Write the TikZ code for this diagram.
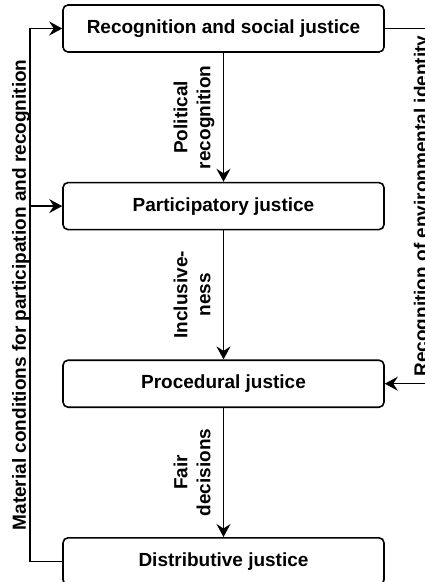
\documentclass[tikz,border=0pt]{standalone}
\usepackage{fontspec}
\setmainfont{Liberation Sans}
\usetikzlibrary{positioning,arrows.meta}
\tikzset{
  box/.style={draw, rounded corners=5pt, line width=1.6pt, minimum width=321pt, minimum height=47pt},
  conn/.style={line width=1.5pt},
  arr/.style={conn, -{Stealth[length=13pt,width=14pt,inset=4.5pt]}},
  lbl/.style={rotate=90, align=center, anchor=south, text depth=0pt, inner xsep=0pt, inner ysep=12.5pt},
  sidelbl/.style={rotate=90, anchor=south, text depth=0pt, inner sep=0pt}
}
\begin{document}
\begin{tikzpicture}[x=1pt, y=-1pt, font=\fontsize{19}{23}\selectfont\bfseries]
  \useasboundingbox (0,0) rectangle (425,582);
  \clip (0,0) rectangle (425,582);
  \fill[white] (0,0) rectangle (425,582);
  % boxes
  \node[box] (recog) at (223.5,28.5) {Recognition and social justice};
  \node[box, below=129pt of recog] (partic) {Participatory justice};
  \node[box, below=129pt of partic] (proced) {Procedural justice};
  \node[box, below=129pt of proced] (distrib) {Distributive justice};
  % down the middle
  \draw[arr] (recog) -- node[lbl] (politlbl) {Political\\recognition} (partic);
  \draw[arr] (partic) -- node[lbl] (inclulbl) {Inclusive-\\ness} (proced);
  \draw[arr] (proced) -- node[lbl] (fairlbl) {Fair\\decisions} (distrib);
  % left loop
  \coordinate (mattop) at ([xshift=-32pt]recog.west);
  \coordinate (matlow) at (mattop |- distrib.west);
  \draw[arr] (distrib.west) -- (matlow) -- (mattop) -- (recog.west);
  \draw[arr] (mattop |- partic.west) -- (partic.west);
  \path (matlow) -- node[sidelbl, inner ysep=4pt] (matlbl) {Material conditions for participation and recognition} (mattop);
  % right loop
  \coordinate (envtop) at ([xshift=43pt]recog.east);
  \coordinate (envlow) at (envtop |- proced.east);
  \draw[arr] (recog.east) -- (envtop) -- (envlow) -- (proced.east);
  \path (envlow) -- node[sidelbl] (envlbl) {Recognition of environmental identity} (envtop);
\end{tikzpicture}
\end{document}
